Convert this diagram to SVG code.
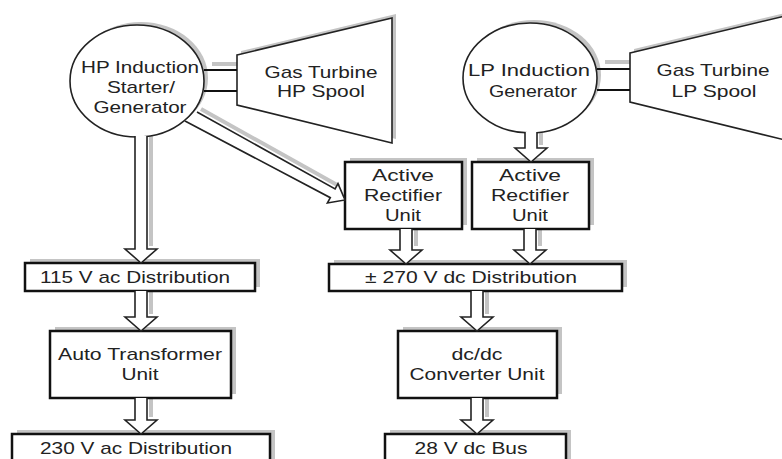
<svg xmlns="http://www.w3.org/2000/svg" width="782" height="459" viewBox="0 0 782 459">
<style>
.box{fill:#fff;stroke:#111;stroke-width:2.5}
.ell{fill:#fff;stroke:#222;stroke-width:1.6}
.sh{fill:#c4c4c4;stroke:none}
.shl{fill:none;stroke:#c4c4c4;stroke-width:4}
.arr{fill:#fff;stroke:#222;stroke-width:1.6;stroke-linejoin:miter}
.shaft{stroke:#111;stroke-width:2.2}
text{font-family:"Liberation Sans",Arial,sans-serif;font-size:17px;fill:#222;text-anchor:middle}
</style>
<rect width="782" height="459" fill="#fff"/>
<g id="shadows">
<ellipse class="sh" cx="141" cy="78" rx="67" ry="56"/>
<ellipse class="sh" cx="534" cy="75" rx="67" ry="55"/>
<polygon class="sh" points="241,51 396,14 396,139 241,101"/>
<polygon class="sh" points="634,49 789,12 789,136 634,98"/>
<rect class="sh" x="350" y="158" width="117" height="67"/>
<rect class="sh" x="477" y="158" width="117" height="67"/>
<rect class="sh" x="30" y="259" width="230" height="28"/>
<rect class="sh" x="334" y="260" width="293" height="27"/>
<rect class="sh" x="55" y="327" width="181" height="67"/>
<rect class="sh" x="403" y="327" width="159" height="67"/>
<rect class="sh" x="17" y="430" width="258" height="40"/>
<rect class="sh" x="390" y="430" width="181" height="40"/>
<g transform="translate(4,-3)">
<path class="shl" d="M208,67 H240"/>
<path class="shl" d="M601,65 H633"/>
<path class="shl" d="M197,112 L335,189"/>
<path class="shl" d="M147,137 V249"/>
<path class="shl" d="M147,291 V317"/>
<path class="shl" d="M147,398 V420"/>
<path class="shl" d="M537,133 V148"/>
<path class="shl" d="M412,229 V249"/>
<path class="shl" d="M536,229 V249"/>
<path class="shl" d="M483,291 V317"/>
<path class="shl" d="M483,398 V420"/>
</g>
</g>
<g id="hp-generator">
<ellipse class="ell" cx="137" cy="81" rx="67" ry="56"/>
<text x="140" y="73" textLength="118" lengthAdjust="spacingAndGlyphs">HP Induction</text>
<text x="141" y="93" textLength="68" lengthAdjust="spacingAndGlyphs">Starter/</text>
<text x="140" y="113" textLength="93" lengthAdjust="spacingAndGlyphs">Generator</text>
</g>
<g id="hp-turbine">
<polygon class="ell" points="237,55 392,18 392,143 237,105"/>
<text x="321" y="78" textLength="113" lengthAdjust="spacingAndGlyphs">Gas Turbine</text>
<text x="321" y="97" textLength="88" lengthAdjust="spacingAndGlyphs">HP Spool</text>
</g>
<g id="lp-generator">
<ellipse class="ell" cx="530" cy="78" rx="67" ry="55"/>
<text x="529" y="76" textLength="122" lengthAdjust="spacingAndGlyphs">LP Induction</text>
<text x="533" y="97" textLength="88" lengthAdjust="spacingAndGlyphs">Generator</text>
</g>
<g id="lp-turbine">
<polygon class="ell" points="630,53 785,16 785,140 630,102"/>
<text x="713" y="76" textLength="113" lengthAdjust="spacingAndGlyphs">Gas Turbine</text>
<text x="714" y="97" textLength="85" lengthAdjust="spacingAndGlyphs">LP Spool</text>
</g>
<g id="active-rectifier-1">
<rect class="box" x="345" y="162" width="117" height="67"/>
<text x="403" y="181" textLength="62" lengthAdjust="spacingAndGlyphs">Active</text>
<text x="403" y="201" textLength="78" lengthAdjust="spacingAndGlyphs">Rectifier</text>
<text x="403" y="221" textLength="36" lengthAdjust="spacingAndGlyphs">Unit</text>
</g>
<g id="active-rectifier-2">
<rect class="box" x="472" y="162" width="117" height="67"/>
<text x="530" y="181" textLength="62" lengthAdjust="spacingAndGlyphs">Active</text>
<text x="530" y="201" textLength="78" lengthAdjust="spacingAndGlyphs">Rectifier</text>
<text x="530" y="221" textLength="36" lengthAdjust="spacingAndGlyphs">Unit</text>
</g>
<g id="ac115">
<rect class="box" x="25" y="263" width="230" height="28"/>
<text x="135" y="283" textLength="190" lengthAdjust="spacingAndGlyphs">115 V ac Distribution</text>
</g>
<g id="dc270">
<rect class="box" x="329" y="264" width="293" height="27"/>
<text x="471" y="283" textLength="212" lengthAdjust="spacingAndGlyphs">± 270 V dc Distribution</text>
</g>
<g id="atu">
<rect class="box" x="50" y="331" width="181" height="67"/>
<text x="140" y="360" textLength="164" lengthAdjust="spacingAndGlyphs">Auto Transformer</text>
<text x="140" y="380" textLength="37" lengthAdjust="spacingAndGlyphs">Unit</text>
</g>
<g id="dcdc">
<rect class="box" x="398" y="331" width="159" height="67"/>
<text x="477" y="360" textLength="51" lengthAdjust="spacingAndGlyphs">dc/dc</text>
<text x="477" y="380" textLength="135" lengthAdjust="spacingAndGlyphs">Converter Unit</text>
</g>
<g id="ac230">
<rect class="box" x="12" y="434" width="258" height="36"/>
<text x="136" y="454" textLength="192" lengthAdjust="spacingAndGlyphs">230 V ac Distribution</text>
</g>
<g id="dc28">
<rect class="box" x="385" y="434" width="181" height="36"/>
<text x="471" y="454" textLength="113" lengthAdjust="spacingAndGlyphs">28 V dc Bus</text>
</g>
<g id="connectors">
<path class="shaft" d="M204,70 H237 M204,91 H237"/>
<path class="shaft" d="M597,69 H630 M597,90 H630"/>
<path class="arr" d="M185,121 L330.3,197.7 L327.4,203 L345,200 L338,183.6 L335.1,188.9 L197,112"/>
<path class="arr" d="M135,136 V249 H125 L141,263 L157,249 H147 V136"/>
<path class="arr" d="M135,291 V317 H125 L141,331 L157,317 H147 V291"/>
<path class="arr" d="M135,398 V420 H125 L141,434 L157,420 H147 V398"/>
<path class="arr" d="M525,132 V148 H515 L531,162 L547,148 H537 V132"/>
<path class="arr" d="M400,229 V250 H390 L406,264 L422,250 H412 V229"/>
<path class="arr" d="M524,229 V250 H514 L530,264 L546,250 H536 V229"/>
<path class="arr" d="M471,291 V317 H461 L477,331 L493,317 H483 V291"/>
<path class="arr" d="M471,398 V420 H461 L477,434 L493,420 H483 V398"/>
</g>
</svg>
